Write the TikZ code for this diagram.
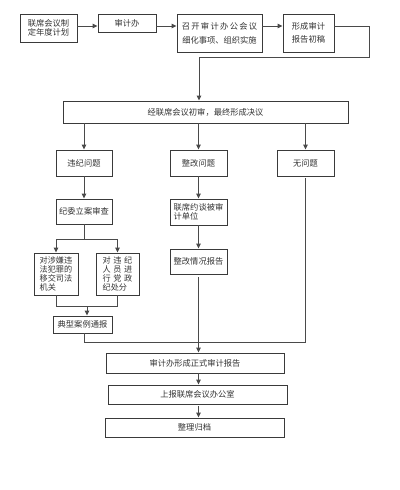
\documentclass[tikz,border=0pt]{standalone}
\usepackage{fontspec}
\setmainfont{Noto Sans CJK SC}
\usetikzlibrary{arrows.meta,calc}
\definecolor{boxc}{HTML}{3A3A3A}
\definecolor{linec}{HTML}{4A4A4A}
\definecolor{txtc}{HTML}{333333}
\begin{document}
\begin{tikzpicture}[x=0.75pt,y=-0.75pt,
  box/.style={draw=boxc, line width=0.72pt, inner sep=0pt, align=center,
    font=\fontsize{6.2}{8.5}\selectfont, text=txtc},
  tight/.style={font=\fontsize{6.1}{6.9}\selectfont},
  sz/.style 2 args={minimum width=#1*0.75pt, minimum height=#2*0.75pt},
  conn/.style={draw=linec, line width=0.7pt},
  arr/.style={conn, -{Triangle[length=3.6pt,width=3.2pt]}}]
\fill[white] (0,0) rectangle (400,490);
\useasboundingbox (0,0) rectangle (400,490);
% top row
\node[box, sz={57}{28}, font=\fontsize{6.2}{6.9}\selectfont] (b1) at (48.5,28) {联席会议制\\定年度计划};
\node[box, sz={58}{18}] (b2) at (127,23) {审计办};
\node[box, sz={85}{38}] (b3) at (219.5,33) {召\hspace{1pt}开\hspace{1pt}审\hspace{1pt}计\hspace{1pt}办\hspace{1pt}公\hspace{1pt}会\hspace{1pt}议\\[2pt]细化事项、组织实施};
\node[box, sz={51}{38}] (b4) at (308.5,33) {形成审计\\[1pt]报告初稿};
\node[box, sz={285}{22}] (b5) at (205.5,112) {经联席会议初审，最终形成决议};
% second row
\node[box, sz={56}{26}] (c1) at (84,163) {违纪问题};
\node[box, sz={57}{26}] (c2) at (198.5,163) {整改问题};
\node[box, sz={57}{26}] (c3) at (305.5,163) {无问题};
% third row
\node[box, sz={56}{25}] (d1) at (84,211.5) {纪委立案审查};
\node[box, sz={57}{26}, align=left, font=\fontsize{6.2}{7.2}\selectfont] (d2) at (198.5,212) {联席约谈被审\\计单位};
\node[box, sz={57}{25}] (e2) at (198.5,261.5) {整改情况报告};
% fourth row left
\node[box, tight, sz={44}{42}, align=left] (e1a) at (56,274) {对涉嫌违\\法犯罪的\\移交司法\\机关};
\node[box, tight, sz={43}{42}, align=left] (e1b) at (117.5,274) {对\hspace{2pt}违\hspace{2pt}纪\\人\hspace{2pt}员\hspace{2pt}进\\行\hspace{2pt}党\hspace{2pt}政\\纪处分};
\node[box, sz={59}{17}] (f) at (82.5,324.5) {典型案例通报};
% bottom
\node[box, sz={178}{20}] (g1) at (195,363) {审计办形成正式审计报告};
\node[box, sz={179}{19}] (g2) at (197.5,394.5) {上报联席会议办公室};
\node[box, sz={179}{19}] (g3) at (194.5,427.5) {整理归档};
% helper coordinates
\coordinate (r) at (0,26);
\coordinate (k1) at (369,57);
\coordinate (k2) at (199,57);
\coordinate (j) at (0,239);
\coordinate (m) at (87,306);
\coordinate (hb) at (84,342);
\coordinate (vx) at (198.5,0);
% top row connectors
\draw[arr] (b1.east |- r) -- (b2.west |- r);
\draw[arr] (b2.east |- r) -- (b3.west |- r);
\draw[arr] (b3.east |- r) -- (b4.west |- r);
\draw[conn] (b4.east |- r) -| (k1) -- (k2);
\draw[arr] (k2) -- (k2 |- b5.north);
% from b5 to three branches
\draw[arr] (b5.south -| c1) -- (c1.north);
\draw[arr] (b5.south -| c2) -- (c2.north);
\draw[arr] (b5.south -| c3) -- (c3.north);
% left branch
\draw[arr] (c1.south) -- (d1.north);
\draw[conn] (d1.south) -- (d1.south |- j);
\draw[arr] (d1.south |- j) -| (e1a.north);
\draw[arr] (d1.south |- j) -| (e1b.north);
\draw[conn] (e1a.south) |- (e1b.south |- m) -- (e1b.south);
\draw[arr] (m) -- (m |- f.north);
\draw[conn] (f.south -| hb) -- (hb) -- (hb -| c3) -- ([yshift=-1.5pt]c3.south);
% middle branch
\draw[arr] (c2.south) -- (d2.north);
\draw[arr] (d2.south) -- (e2.north);
\draw[arr] ([yshift=-2pt]e2.south) -- (e2.south |- g1.north);
% bottom chain
\draw[arr] (g1.south -| vx) -- (g2.north -| vx);
\draw[arr] ([yshift=-1.5pt]g2.south -| vx) -- (g3.north -| vx);
\end{tikzpicture}
\end{document}
